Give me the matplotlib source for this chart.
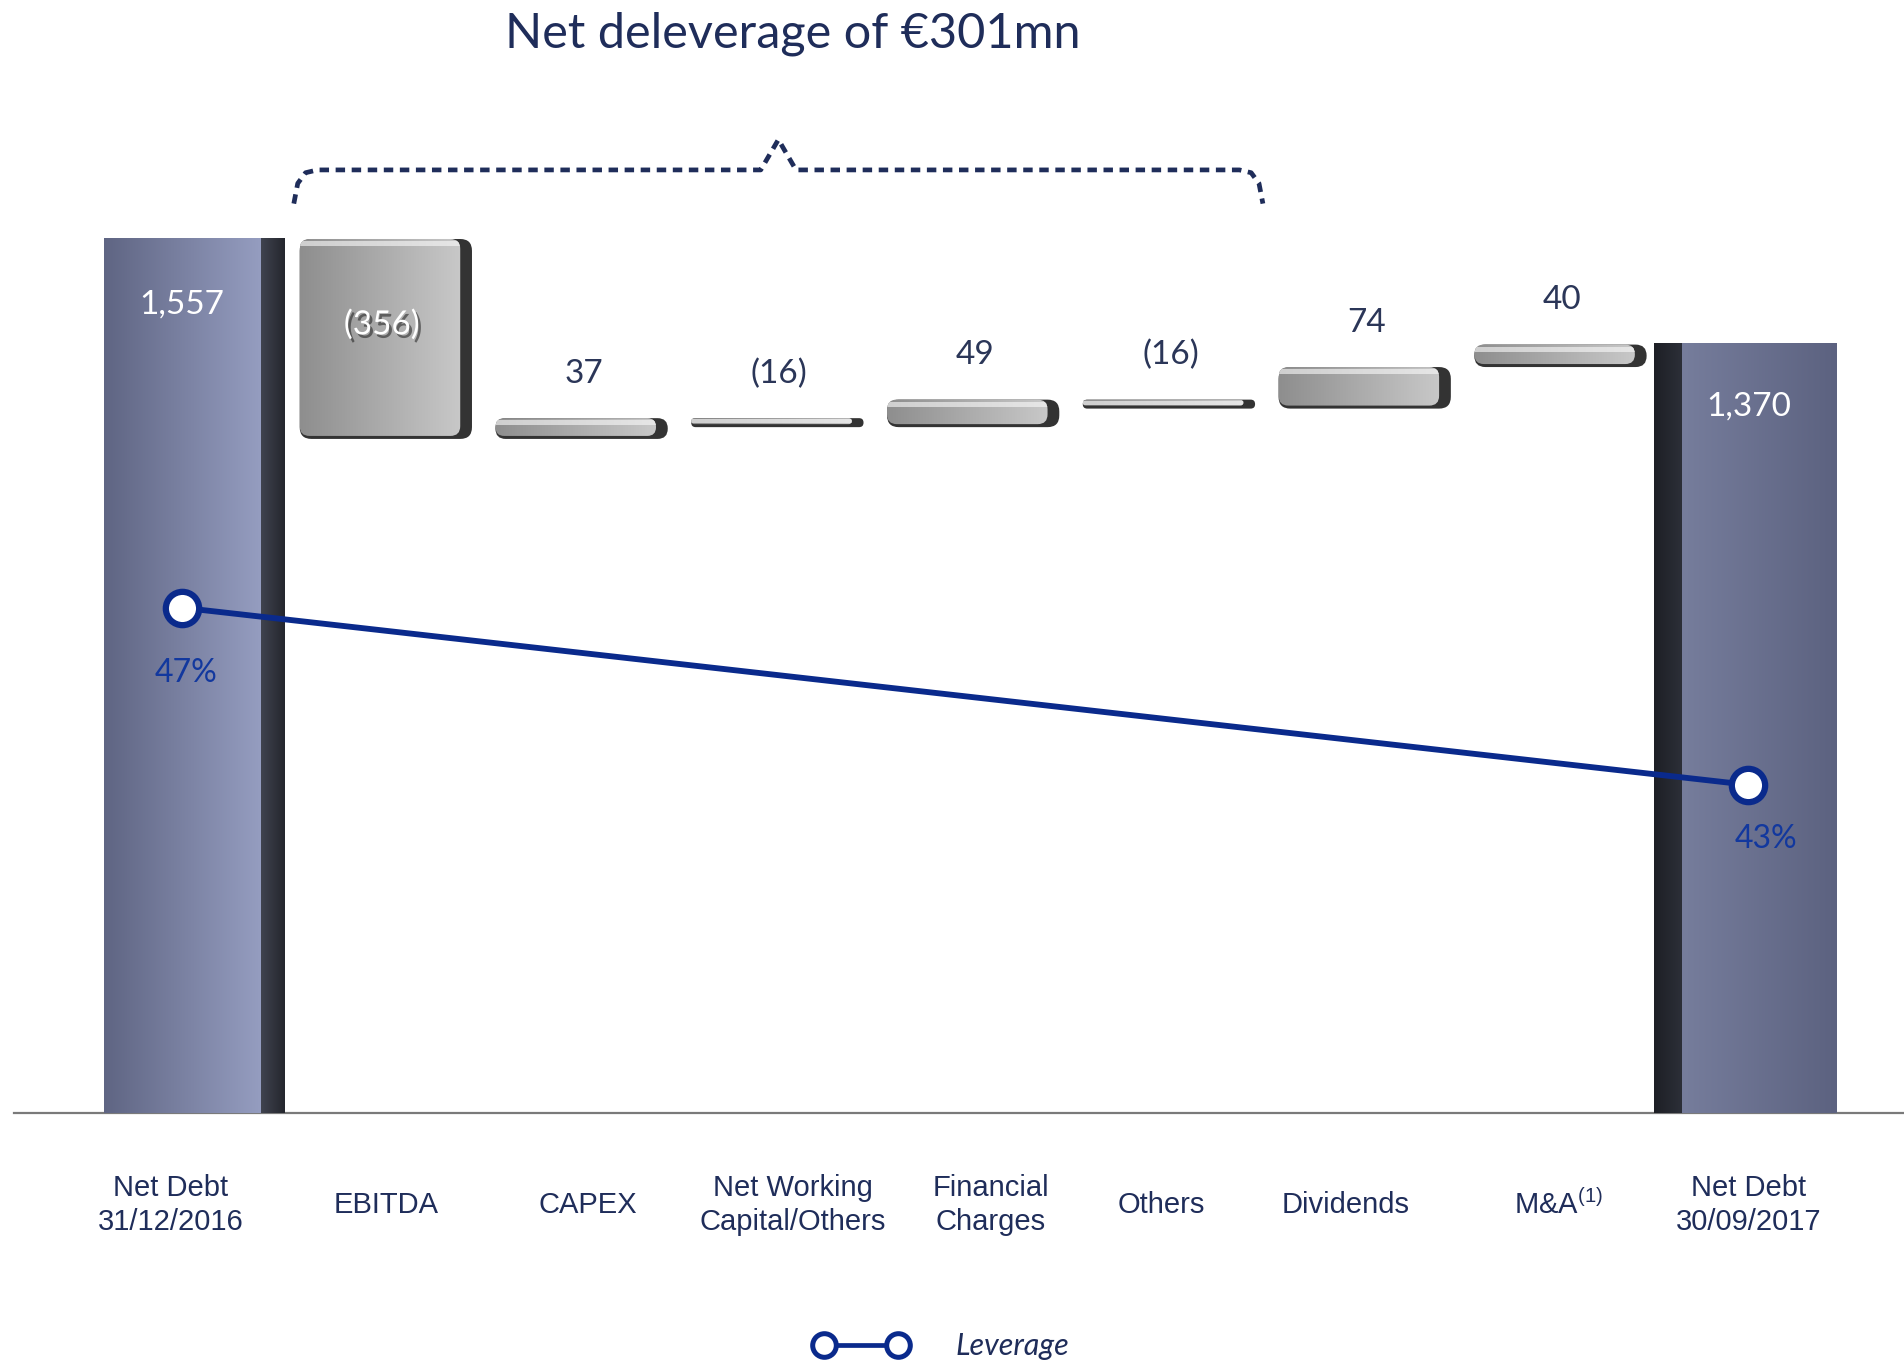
import matplotlib
matplotlib.use("Agg")
import numpy as np
import matplotlib.pyplot as plt
import matplotlib.patheffects as pe
from matplotlib.colors import LinearSegmentedColormap
from matplotlib.lines import Line2D
from matplotlib.patches import FancyBboxPatch

categories = ["Net Debt\n31/12/2016", "EBITDA", "CAPEX", "Net Working\nCapital/Others",
              "Financial\nCharges", "Others", "Dividends", r"M&A$^{\mathregular{(1)}}$",
              "Net Debt\n30/09/2017"]
values = [1557, -356, 37, -16, 49, -16, 74, 40, 1370]
value_labels = ["1,557", "(356)", "37", "(16)", "49", "(16)", "74", "40", "1,370"]
leverage_pos = [0, 8]
leverage = [47, 43]
leverage_labels = ["47%", "43%"]
title = "Net deleverage of €301mn"

# small horizontal nudges of the category labels, as in the original slide
label_shift = [-0.06, 0.04, 0.07, 0.12, 0.13, 0.0, -0.06, 0.03, 0.0]

NAVY = "#1f2d5a"
LINE_BLUE = "#0a2a8c"

fig = plt.figure(figsize=(19.04, 13.67), dpi=100)
ax = fig.add_axes([0.0443, 0.1855, 0.9254, 0.7395])
ax.set_xlim(-0.5, 8.5)
ax.set_ylim(0, 1800)

# data units per pixel, used to make round corners look round
W_PX = 0.9254 * 1904
H_PX = 0.7395 * 1367
ux = 9.0 / W_PX
uy = 1800.0 / H_PX
asp = uy / ux


def grad_rect(x0, x1, y0, y1, c0, c1, z=2, clip=None):
    cmap = LinearSegmentedColormap.from_list("g", [c0, c1])
    g = np.linspace(0, 1, 256).reshape(1, -1)
    im = ax.imshow(g, extent=[x0, x1, y0, y1], aspect="auto", cmap=cmap,
                   origin="lower", zorder=z, interpolation="bicubic")
    if clip is not None:
        im.set_clip_path(clip)
    return im


def rbox(x0, x1, y0, y1, r, **kw):
    r = min(r, (y1 - y0) / asp / 2 * 0.98, (x1 - x0) / 2)
    p = FancyBboxPatch((x0, y0), x1 - x0, y1 - y0,
                       boxstyle=f"round,pad=0,rounding_size={r}",
                       mutation_aspect=asp, **kw)
    ax.add_patch(p)
    return p


# waterfall bars
running = values[0]
tops = []
for i, v in enumerate(values):
    if i == 0:
        b, t = 0, v
        grad_rect(i - 0.40, i + 0.40, b, t, "#5f6583", "#959dc0")
        grad_rect(i + 0.40, i + 0.52, b, t, "#40434f", "#24262d")
    elif i == len(values) - 1:
        b, t = 0, v
        grad_rect(i - 0.48, i - 0.34, b, t, "#1d1f25", "#2c2f38")
        grad_rect(i - 0.34, i + 0.45, b, t, "#767d9c", "#5c6280")
    else:
        start = running
        running = running + v
        b, t = min(start, running), max(start, running)
        rbox(i - 0.40, i + 0.48, b, t, 0.06, facecolor="#333333",
             edgecolor="none", zorder=2)
        face = rbox(i - 0.40, i + 0.42, b + 3 * uy, t, 0.05, facecolor="none",
                    edgecolor="none", zorder=2)
        grad_rect(i - 0.40, i + 0.42, b, t, "#8e8e8e", "#c8c8c8", z=3, clip=face)
        hl = min(5 * uy, (t - b) * 0.35)
        grad_rect(i - 0.40, i + 0.42, t - hl - 2 * uy, t - 2 * uy, "#cfcfcf", "#e6e6e6",
                  z=4, clip=face)
    tops.append(t)

# value labels
for i, (t, lab) in enumerate(zip(tops, value_labels)):
    if i == 0:
        ax.annotate(lab, (i, t), xytext=(0, -47), textcoords="offset points",
                    ha="center", va="center", color="white", fontsize=24,
                    family="Lato", zorder=6)
    elif i == len(values) - 1:
        ax.annotate(lab, (i, t), xytext=(0, -45), textcoords="offset points",
                    ha="center", va="center", color="white", fontsize=24,
                    family="Lato", zorder=6)
    elif values[i] < -100:
        ax.annotate(lab, (i + 0.02, t), xytext=(0, -62), textcoords="offset points",
                    ha="center", va="center", color="white", fontsize=24,
                    family="Lato", zorder=6,
                    path_effects=[pe.SimplePatchShadow(offset=(2, -2.5), shadow_rgbFace="black",
                                                       alpha=0.45), pe.Normal()])
    else:
        ax.annotate(lab, (i + 0.05, t), xytext=(0, 32), textcoords="offset points",
                    ha="center", va="center", color="#2b3658", fontsize=24,
                    family="Lato", zorder=6)

# baseline
ax.plot([-0.86, 9.2], [0, 0], color="#7a7a7a", lw=1.6, clip_on=False, zorder=1)

# brace over EBITDA..Others
bx0, bx1 = 1 - 0.43, 5 + 0.52
bm = (bx0 + bx1) / 2
bxs = [bx0, bx0 + 0.02, bx0 + 0.06, bx0 + 0.12, bm - 0.09, bm, bm + 0.09,
       bx1 - 0.12, bx1 - 0.06, bx1 - 0.02, bx1]
bys = [1620, 1656, 1675, 1680, 1680, 1734, 1680, 1680, 1675, 1656, 1620]
ax.plot(bxs, bys, color=NAVY, lw=3.4, ls=(0, (2, 1.4)), clip_on=False, zorder=4)

# leverage line on a second scale
ax2 = ax.twinx()
ax2.set_ylim(35.58, 58.41)
ax2.plot(leverage_pos, leverage, color=LINE_BLUE, lw=4.2, marker="o", ms=24,
         mfc="white", mec=LINE_BLUE, mew=4.5, zorder=7)
offs = [(3, -47), (13, -39)]
for x, y, lab, o in zip(leverage_pos, leverage, leverage_labels, offs):
    ax2.annotate(lab, (x, y), xytext=o, textcoords="offset points", ha="center",
                 va="center", color="#12389e", fontsize=23, family="Lato")

for a in (ax, ax2):
    for s in a.spines.values():
        s.set_visible(False)
    a.set_yticks([])
ax.set_xticks(np.arange(len(categories)) + np.array(label_shift))
ax.set_xticklabels(categories, fontsize=21, color=NAVY, family="Liberation Sans",
                   linespacing=1.25)
for lab in ax.get_xticklabels():
    lab.set_va("center")
ax.tick_params(axis="x", length=0, pad=66)

fig.text(0.4165, 0.975, title, ha="center", va="center", fontsize=35,
         color=NAVY, family="Lato")

handle = Line2D([], [], color=LINE_BLUE, lw=3.4, marker="o", ms=17, mfc="white",
                mec=LINE_BLUE, mew=3.6)
leg = fig.legend([handle], ["Leverage"], loc="center", bbox_to_anchor=(0.495, 0.015),
                 numpoints=2, frameon=False, handlelength=3.0, handletextpad=1.6,
                 prop={"family": "Lato", "style": "italic", "size": 22})
for t in leg.get_texts():
    t.set_color(NAVY)

fig.savefig("out.png", dpi=100, facecolor="white")
